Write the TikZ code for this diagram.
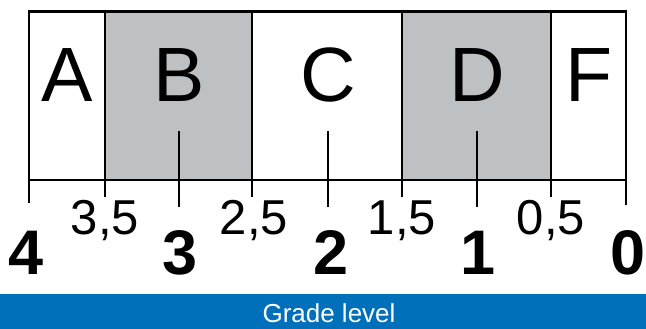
\documentclass[tikz,border=0pt]{standalone}
\usepackage{fontspec}
\setmainfont{Liberation Sans}
\definecolor{boxgray}{HTML}{BEC1C4}
\definecolor{bandblue}{HTML}{0070BA}
\begin{document}
\begin{tikzpicture}[x=1pt,y=-1pt,
  grade/.style={anchor=base,inner sep=0pt,font=\fontsize{77}{77}\selectfont},
  half/.style={anchor=base,inner sep=0pt,font=\fontsize{49}{49}\selectfont},
  whole/.style={anchor=base,inner sep=0pt,font=\fontsize{63}{63}\selectfont\bfseries},
  rule/.style={line width=1.5pt,black},
  band/.style={fill=bandblue,draw=none}]
\useasboundingbox (0,0) rectangle (646,329);
% shaded boxes
\fill[boxgray] (105,12) rectangle (252,180);
\fill[boxgray] (402,12) rectangle (551,180);
% frame
\draw[line width=3pt] (28,11.5) -- (627,11.5);
\draw[rule] (29,10) -- (29,203);
\draw[rule] (626,10) -- (626,205);
\draw[rule] (29,180) -- (626,180);
\foreach \x in {105,252,402,551} \draw[rule] (\x,12) -- (\x,197);
\foreach \x in {179,328,477} \draw[rule] (\x,131) -- (\x,207);
% grade letters
\node[grade] (A) at (67,102) {A};
\node[grade] (B) at (179,102) {B};
\node[grade] (C) at (328,102) {C};
\node[grade] (D) at (477,102) {D};
\node[grade] (F) at (589,102) {F};
% half values
\node[half] (h35) at (105,234) {3,5};
\node[half] (h25) at (254,234) {2,5};
\node[half] (h15) at (402,234) {1,5};
\node[half] (h05) at (551,234) {0,5};
% whole values
\node[whole] (n4) at (26,274) {4};
\node[whole] (n3) at (180,274) {3};
\node[whole] (n2) at (331,274) {2};
\node[whole] (n1) at (478,274) {1};
\node[whole] (n0) at (628,274) {0};
% band
\fill[band] (0,294) rectangle (646,329);
\node[anchor=base,inner sep=0pt,text=white,font=\fontsize{26}{26}\selectfont] (gl) at (329,322) {Grade level};
\end{tikzpicture}
\end{document}
